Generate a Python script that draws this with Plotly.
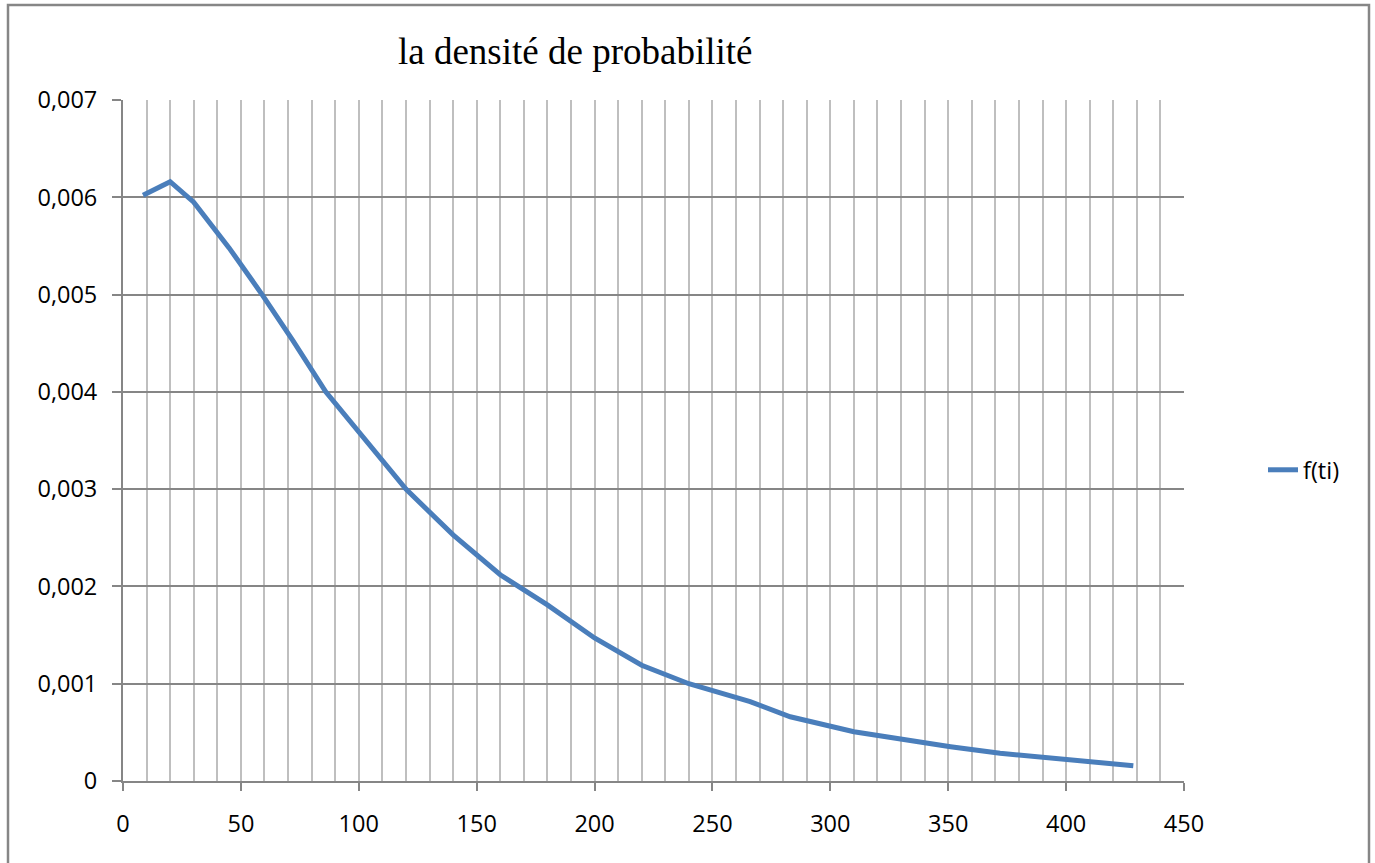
import plotly.graph_objects as go

# f(ti) : probability density evaluated at the observation times
t_values = [8.5, 20, 30, 45, 59, 72, 86, 100, 120, 140, 160, 180, 200, 220,
            240, 266, 283, 310, 330, 351, 372, 393, 428.5]
f_values = [0.00602, 0.00616, 0.00595, 0.00548, 0.00500, 0.00453, 0.00400,
            0.00359, 0.00300, 0.00253, 0.00212, 0.00181, 0.00147, 0.00119,
            0.00100, 0.000815, 0.00066, 0.000507, 0.000428, 0.000353,
            0.000285, 0.000233, 0.000157]

x_tick_vals = [0, 50, 100, 150, 200, 250, 300, 350, 400, 450]
y_tick_vals = [0, 0.001, 0.002, 0.003, 0.004, 0.005, 0.006, 0.007]
y_tick_text = ["0", "0,001", "0,002", "0,003", "0,004", "0,005", "0,006", "0,007"]

W, H = 1375, 863
ML, MR, MT, MB = 123, 191, 100, 82
PW, PH = W - ML - MR, H - MT - MB


def px_x(px):
    return (px - ML) / PW


def px_y(py):
    return (H - MB - py) / PH


tick_font = dict(family="Open Sans", size=23.5, color="#000000")
dark_grid = "#868686"
light_grid = "#bfbfbf"

fig = go.Figure()
fig.add_trace(go.Scatter(
    x=t_values, y=f_values, mode="lines", name="f(ti)",
    line=dict(color="#4a7ebb", width=5),
))

fig.update_layout(
    width=W, height=H,
    margin=dict(l=ML, r=MR, t=MT, b=MB),
    paper_bgcolor="#ffffff", plot_bgcolor="#ffffff",
    showlegend=True,
    legend=dict(
        x=px_x(1263), y=px_y(470), xanchor="left", yanchor="middle",
        font=tick_font, bgcolor="rgba(0,0,0,0)", borderwidth=0,
        itemwidth=30,
    ),
    xaxis=dict(
        range=[0, 450], tickvals=x_tick_vals,
        showgrid=True, gridcolor=light_grid, gridwidth=2,
        minor=dict(dtick=10, tick0=0, showgrid=True, gridcolor=light_grid,
                   gridwidth=2, ticks=""),
        ticks="outside", ticklen=8, tickcolor=dark_grid, tickwidth=2,
        showline=True, linecolor=dark_grid, linewidth=2,
        zeroline=False, tickfont=tick_font, ticklabelstandoff=13,
    ),
    yaxis=dict(
        range=[0, 0.007], tickvals=y_tick_vals, ticktext=y_tick_text,
        showgrid=True, gridcolor=dark_grid, gridwidth=2,
        ticks="outside", ticklen=9, tickcolor=dark_grid, tickwidth=2,
        showline=True, linecolor=dark_grid, linewidth=2,
        zeroline=False, tickfont=tick_font, ticklabelstandoff=10,
    ),
    annotations=[dict(
        text="la densité de probabilité",
        xref="paper", yref="paper", x=px_x(574.5), y=px_y(52),
        xanchor="center", yanchor="middle", showarrow=False,
        font=dict(family="Liberation Serif", size=37, color="#000000"),
    )],
    shapes=[dict(
        type="rect", xref="paper", yref="paper",
        x0=px_x(8), x1=px_x(1369), y0=px_y(868), y1=px_y(5),
        line=dict(color="#868686", width=2.5), fillcolor="rgba(0,0,0,0)",
        layer="below",
    )],
)

fig.write_html("out.html")
